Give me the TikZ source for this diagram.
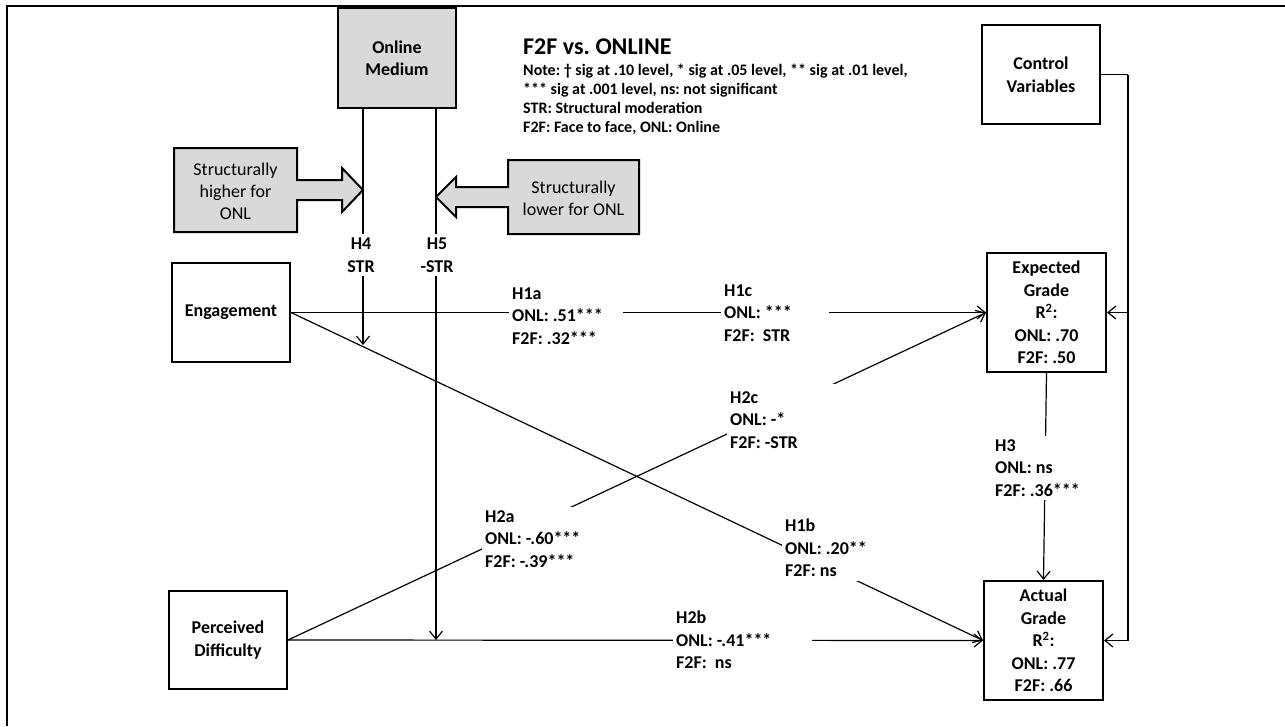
\documentclass[tikz,border=0pt]{standalone}
\usepackage{fontspec}
\setmainfont{Carlito}
\usetikzlibrary{arrows.meta}
\definecolor{boxgray}{HTML}{D9D9D9}
\frenchspacing

\begin{document}
\begin{tikzpicture}[x=1pt, y=-1pt,
    txt/.style={font=\fontsize{18}{22.5}\selectfont\bfseries, align=center},
    box/.style={txt, draw, line width=2pt, inner sep=0pt},
    lbl/.style={txt, align=flush left, fill=white, inner xsep=3pt, inner ysep=4pt},
    conn/.style={line width=1.2pt},
    arr/.style={conn, -{Straight Barb[length=8pt, width=13pt]}},
    callout/.style={draw, line width=2pt, fill=boxgray}]
  \useasboundingbox (0,0) rectangle (1285,726);
  \draw[line width=2pt] (7,726) -- (7,6) -- (1285,6);

  % constructs
  \node[box, fill=boxgray, minimum width=118pt, minimum height=100pt] (med) at (397,58) {Online\\Medium};
  \node[box, minimum width=118pt, minimum height=99pt] (ctl) at (1041,74.5) {Control\\Variables};
  \node[box, minimum width=118pt, minimum height=99pt] (eng) at (231,312.5) {Engagement};
  \node[box, minimum width=118pt, minimum height=98pt] (dif) at (228,640) {Perceived\\Difficulty};
  \node[box, minimum width=119pt, minimum height=119pt] (exp) at (1046.5,312.5)
    {Expected\\Grade\\R\textsuperscript{2}:\\ONL: .70\\F2F: .50};
  \node[box, minimum width=119pt, minimum height=119pt] (act) at (1043.5,640.5)
    {Actual\\Grade\\R\textsuperscript{2}:\\ONL: .77\\F2F: .66};

  \node[anchor=west, inner sep=0pt, font=\fontsize{24}{28}\selectfont\bfseries] (ttl) at (523,47) {F2F vs. ONLINE};
  \node[anchor=north west, inner sep=0pt, align=left, font=\fontsize{16}{19}\selectfont\bfseries] (note) at (523,64)
    {Note: † sig at .10 level, * sig at .05 level, ** sig at .01 level,\\{}*** sig at .001 level, ns: not significant\\STR: Structural moderation\\F2F: Face to face, ONL: Online};

  % paths
  \draw[arr] (eng.east) -- (exp.west);
  \draw[arr] (eng.east) -- (act.west);
  \draw[arr] (dif.east) -- (exp.west);
  \draw[arr] (dif.east) -- (act.west);
  \draw[arr] (exp.south) -- (act.north);

  \coordinate (ctlbend) at ([xshift=27pt]ctl.east);
  \draw[conn] (ctl.east) -- (ctlbend);
  \draw[arr] (ctlbend) |- (act.east);
  \draw[arr] (ctlbend |- exp.east) -- (exp.east);

  % moderation
  \coordinate (h4end) at (363,345);
  \coordinate (h5end) at (436,640);
  \draw[arr] (h4end |- med.south) -- (h4end);
  \draw[arr] (h5end |- med.south) -- (h5end);

  \draw[callout] (174,148) -- (297,148) -- (297,180) -- (342,180) -- (342,168) -- (363,190)
    -- (342,212) -- (342,200) -- (297,200) -- (297,232) -- (174,232) -- cycle;
  \node[font=\fontsize{18}{22}\selectfont, align=center] (hi) at (235.5,191) {Structurally\\higher for\\ONL};
  \draw[callout] (639,160) -- (508,160) -- (508,187) -- (456,187) -- (456,177) -- (436,197)
    -- (456,217) -- (456,207) -- (508,207) -- (508,234) -- (639,234) -- cycle;
  \node[font=\fontsize{18}{22}\selectfont, align=center] (lo) at (573.5,198) {Structurally\\lower for ONL};

  % path labels
  \node[lbl, align=center] (h4) at (361,255) {H4\\STR};
  \node[lbl, align=center] (h5) at (437,255) {H5\\-STR};
  \node[lbl, anchor=west, text width=108pt] (h1a) at (509,316) {H1a\\ONL: .51***\\F2F: .32***};
  \node[lbl, anchor=west, text width=102pt] (h1c) at (721,313) {H1c\\ONL: ***\\F2F: \ STR};
  \node[lbl, anchor=west, text width=117pt, inner ysep=8pt] (h2c) at (727,420) {H2c\\ONL: -*\\F2F: -STR};
  \node[lbl, anchor=west, text width=100pt] (h2a) at (482,539) {H2a\\ONL: -.60***\\F2F: -.39***};
  \node[lbl, anchor=west] (h1b) at (782,548) {H1b\\ONL: .20**\\F2F: ns};
  \node[lbl, anchor=west, text width=133pt] (h2b) at (673,640) {H2b\\ONL: -.41***\\F2F: \ ns};
  \node[lbl, anchor=west] (h3) at (992,468) {H3\\ONL: ns\\F2F: .36***};
\end{tikzpicture}
\end{document}
